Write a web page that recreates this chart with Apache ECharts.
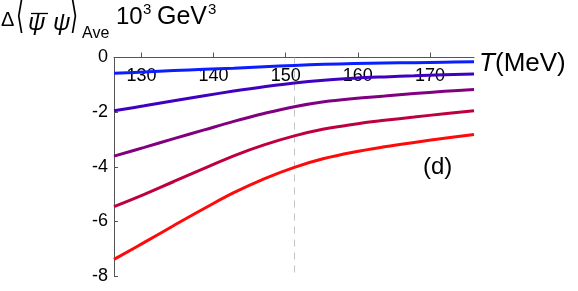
<!DOCTYPE html>
<html>
<head>
<meta charset="utf-8">
<script src="https://cdn.jsdelivr.net/npm/echarts@6/dist/echarts.min.js"></script>
<style>
html,body{margin:0;padding:0;background:#fff;}
#chart{width:578px;height:291px;}
</style>
</head>
<body>
<div id="chart"></div>
<script>
// ---- data ----
const temperatures = [126.2, 130.4, 134.5, 138.7, 142.8, 147.0, 151.2, 155.3, 159.5, 163.7, 167.8, 172.0, 176.1];
const curve1 = [-0.58, -0.53, -0.48, -0.43, -0.39, -0.34, -0.29, -0.25, -0.22, -0.20, -0.19, -0.17, -0.16];
const curve2 = [-1.95, -1.77, -1.58, -1.40, -1.23, -1.07, -0.93, -0.83, -0.76, -0.71, -0.67, -0.63, -0.60];
const curve3 = [-3.61, -3.29, -2.97, -2.65, -2.34, -2.05, -1.80, -1.62, -1.50, -1.41, -1.32, -1.24, -1.17];
const curve4 = [-5.46, -5.01, -4.54, -4.06, -3.60, -3.20, -2.87, -2.62, -2.44, -2.30, -2.18, -2.06, -1.95];
const curve5 = [-7.39, -6.77, -6.15, -5.53, -4.95, -4.44, -4.02, -3.70, -3.46, -3.27, -3.11, -2.96, -2.82];
const xTickValues = [130, 140, 150, 160, 170];
const yTickValues = [-8, -6, -4, -2, 0];
const markerT = 151.2;
const xRange = [126.2, 176.1];
const yRange = [-8, 0];

// ---- styles ----
const curveColors = ['#0a1eff', '#4000c0', '#800080', '#bf0040', '#ff0a0a'];

const allCurves = [curve1, curve2, curve3, curve4, curve5];
const chart = echarts.init(document.getElementById('chart'), null, {renderer: 'canvas'});

const series = allCurves.map((vals, i) => ({
  type: 'line',
  data: temperatures.map((t, j) => [t, vals[j]]),
  smooth: 0.4,
  showSymbol: false,
  symbol: 'none',
  lineStyle: {color: curveColors[i], width: 3},
  z: 10 - i,
  silent: true,
  animation: false
}));

series.push({
  type: 'line',
  data: [],
  silent: true,
  markLine: {
    symbol: 'none',
    silent: true,
    label: {show: false},
    animation: false,
    lineStyle: {color: '#c4c4c4', type: [7, 6], width: 1},
    data: [[{coord: [markerT, yRange[1]]}, {coord: [markerT, yRange[0]]}]]
  }
});

const font = 'Liberation Sans, Arial, sans-serif';

chart.setOption({
  animation: false,
  backgroundColor: '#fff',
  grid: {left: 114, right: 104, top: 57.5, bottom: 15, outerBoundsMode: 'none', containLabel: false},
  xAxis: {
    type: 'value',
    position: 'top',
    min: xRange[0],
    max: xRange[1],
    splitLine: {show: false},
    axisLine: {show: true, onZero: false, lineStyle: {color: '#555', width: 1}},
    axisTick: {show: true, inside: false, length: 5, customValues: xTickValues, lineStyle: {color: '#555'}},
    axisLabel: {show: true, inside: true, margin: 10, customValues: xTickValues, color: '#000', fontSize: 18, fontFamily: font}
  },
  yAxis: {
    type: 'value',
    min: yRange[0],
    max: yRange[1],
    splitLine: {show: false},
    axisLine: {show: true, onZero: false, lineStyle: {color: '#555', width: 1}},
    axisTick: {show: true, inside: true, length: 4, customValues: yTickValues, lineStyle: {color: '#555'}},
    axisLabel: {show: true, margin: 6, customValues: yTickValues, color: '#000', fontSize: 18, fontFamily: font}
  },
  series: series,
  graphic: [
    {type: 'text', x: 1, y: 20, style: {text: 'Δ', font: '20px ' + font, fill: '#000', textVerticalAlign: 'middle'}},
    {type: 'text', x: 16, y: 18.5, scaleX: 0.55, style: {text: '⟨', font: '200 38px DejaVu Sans', fill: '#000', textVerticalAlign: 'middle'}},
    {type: 'text', x: 28, y: 23, style: {text: 'ψ', font: 'italic 24px ' + font, fill: '#000', textVerticalAlign: 'middle'}},
    {type: 'line', shape: {x1: 31, y1: 13.5, x2: 48, y2: 13.5}, style: {stroke: '#000', lineWidth: 1.3}},
    {type: 'text', x: 53, y: 23, style: {text: 'ψ', font: 'italic 24px ' + font, fill: '#000', textVerticalAlign: 'middle'}},
    {type: 'text', x: 70, y: 18.5, scaleX: 0.55, style: {text: '⟩', font: '200 38px DejaVu Sans', fill: '#000', textVerticalAlign: 'middle'}},
    {type: 'text', x: 82, y: 34, style: {text: 'Ave', font: '16px ' + font, fill: '#000', textVerticalAlign: 'middle'}},
    {type: 'text', x: 116, y: 17, style: {text: '10', font: '24px ' + font, fill: '#000', textVerticalAlign: 'middle'}},
    {type: 'text', x: 143, y: 10, style: {text: '3', font: '15px ' + font, fill: '#000', textVerticalAlign: 'middle'}},
    {type: 'text', x: 157, y: 17, style: {text: 'GeV', font: '25px ' + font, fill: '#000', textVerticalAlign: 'middle'}},
    {type: 'text', x: 208, y: 10, style: {text: '3', font: '15px ' + font, fill: '#000', textVerticalAlign: 'middle'}},
    {type: 'text', x: 479, y: 64, style: {text: 'T', font: 'italic 26px ' + font, fill: '#000', textVerticalAlign: 'middle'}},
    {type: 'text', x: 495, y: 64, style: {text: '(MeV)', font: '26px ' + font, fill: '#000', textVerticalAlign: 'middle'}},
    {type: 'text', x: 423, y: 167, style: {text: '(d)', font: '24px ' + font, fill: '#000', textVerticalAlign: 'middle'}}
  ]
});
</script>
</body>
</html>
